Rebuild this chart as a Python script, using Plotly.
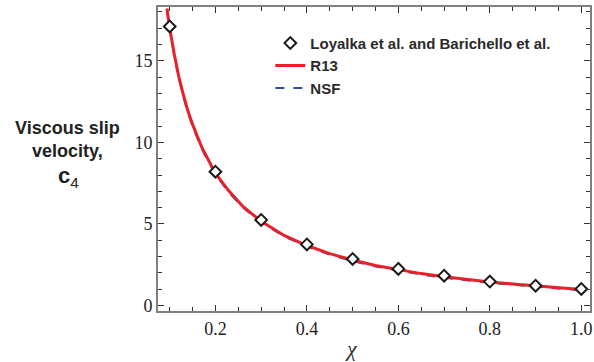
import plotly.graph_objects as go

# Reference data: Loyalka et al. and Barichello et al.
chi_ref = [0.1, 0.2, 0.3, 0.4, 0.5, 0.6, 0.7, 0.8, 0.9, 1.0]
c4_ref = [17.1, 8.2, 5.25, 3.75, 2.86, 2.25, 1.83, 1.47, 1.22, 1.02]

# Model curves
chi_curve = [0.094, 0.1, 0.11, 0.12, 0.13, 0.14, 0.15, 0.17, 0.2, 0.23, 0.26,
             0.3, 0.35, 0.4, 0.45, 0.5, 0.55, 0.6, 0.65, 0.7, 0.75, 0.8,
             0.85, 0.9, 0.95, 1.0]
c4_r13 = [18.2, 17.0, 15.4, 14.0, 12.9, 11.9, 11.1, 9.7, 8.1, 7.0, 6.07,
          5.16, 4.3, 3.68, 3.18, 2.79, 2.46, 2.19, 1.96, 1.77, 1.6, 1.45,
          1.32, 1.2, 1.09, 0.99]
c4_nsf = [18.1, 16.9, 15.3, 13.9, 12.8, 11.8, 11.0, 9.6, 8.02, 6.92, 6.0,
          5.1, 4.24, 3.62, 3.12, 2.73, 2.4, 2.13, 1.9, 1.71, 1.54, 1.39,
          1.27, 1.15, 1.04, 0.94]

x_ticks = [0.2, 0.4, 0.6, 0.8, 1.0]
x_tick_text = ["0.2", "0.4", "0.6", "0.8", "1.0"]
y_ticks = [0, 5, 10, 15]

SERIF = "Liberation Serif"
SANS = "Liberation Sans"

fig = go.Figure()

fig.add_trace(go.Scatter(
    x=chi_curve, y=c4_nsf, mode="lines", name="NSF",
    line=dict(color="#34508f", width=2, dash="dash"), legendrank=3,
))
fig.add_trace(go.Scatter(
    x=chi_curve, y=c4_r13, mode="lines", name="R13",
    line=dict(color="#e8202a", width=3), legendrank=2,
))
fig.add_trace(go.Scatter(
    x=chi_ref, y=c4_ref, mode="markers",
    name="Loyalka et al. and Barichello et al.",
    marker=dict(symbol="diamond", size=9, color="white",
                line=dict(color="#1a1a1a", width=2)),
    legendrank=1,
))

axis_common = dict(
    showgrid=False, zeroline=False, showline=True, linecolor="#808080",
    linewidth=2, mirror="allticks", ticks="inside", ticklen=6,
    tickcolor="#333333", tickwidth=1,
)

fig.update_layout(
    width=594, height=362,
    margin=dict(l=158, r=2, t=7, b=51),
    paper_bgcolor="white", plot_bgcolor="white",
    font=dict(family=SERIF, size=18, color="#222222"),
    xaxis=dict(
        range=[0.0744, 1.019], tickvals=x_ticks, ticktext=x_tick_text,
        minor=dict(dtick=0.05, tick0=0, ticks="inside", ticklen=4,
                   tickcolor="#333333"),
        **axis_common,
    ),
    yaxis=dict(
        range=[-0.33, 18.29], tickvals=y_ticks,
        minor=dict(dtick=1, tick0=0, ticks="inside", ticklen=4,
                   tickcolor="#333333"),
        **axis_common,
    ),
    legend=dict(
        x=0.26, y=0.935, xanchor="left", yanchor="top",
        bgcolor="rgba(0,0,0,0)", tracegroupgap=0, itemwidth=30,
        font=dict(family=SANS, size=15, color="#2a2a2a", weight="bold"),
    ),
    showlegend=True,
)

# x-axis title placed below the plot area
fig.add_annotation(
    text="<i>χ</i>", xref="paper", yref="paper", x=0.448, y=-0.122,
    xanchor="center", yanchor="middle", showarrow=False,
    font=dict(family=SERIF, size=22, color="#333333"),
)
fig.add_annotation(
    text="<b>Viscous slip<br>velocity,</b>",
    xref="paper", yref="paper", x=-0.21, y=0.565,
    xanchor="center", yanchor="middle", showarrow=False, align="center",
    font=dict(family=SANS, size=18, color="#222222"),
)
fig.add_annotation(
    text="<b>c</b><sub>4</sub>",
    xref="paper", yref="paper", x=-0.207, y=0.44,
    xanchor="center", yanchor="middle", showarrow=False,
    font=dict(family=SANS, size=22, color="#222222"),
)

fig.write_html("out.html")
